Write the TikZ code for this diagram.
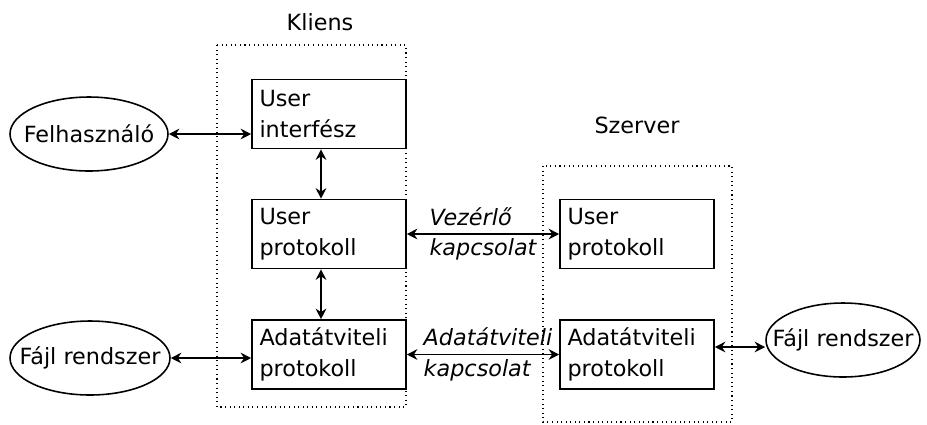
\documentclass[tikz,border=0pt]{standalone}
\usepackage{fontspec}
\setmainfont{DejaVu Sans}
\usetikzlibrary{shapes.geometric,arrows.meta}

\tikzset{
    doboz/.style={draw, line width=0.9pt, rectangle, minimum width=3.08cm, minimum height=1.38cm,
        inner xsep=0.15cm, text width=2.78cm, align=left},
    tojas/.style={draw, line width=0.9pt, ellipse, inner xsep=-0.5cm, inner ysep=0pt, minimum height=1.48cm},
    nyil/.style={line width=0.9pt, {Stealth[length=6pt,width=6pt]}-{Stealth[length=6pt,width=6pt]}},
    keret/.style={dotted, line width=0.6pt}
}

\begin{document}
\begin{tikzpicture}[x=0.02cm, y=-0.02cm, font=\fontsize{12.7}{17.5}\selectfont]
    \useasboundingbox (0,0) rectangle (927,424);

    %Keretek
        \draw[keret] (217,45) rectangle (406,407);
        \draw[keret] (543,166) rectangle (732,422);
        \node (kliens) at (320,22) {Kliens};
        \node (szerver) at (637,125) {Szerver};

    %Kliens
        \node[doboz] (ui) at (329,114) {User\\interfész};
        \node[doboz] (up1) at (329,234) {User\\protokoll};
        \node[doboz] (ad1) at (329,354.5) {Adatátviteli\\protokoll};

    %Szerver
        \node[doboz] (up2) at (637,234) {User\\protokoll};
        \node[doboz] (ad2) at (637,354.5) {Adatátviteli\\protokoll};

    %Kulso
        \node[tojas, minimum width=3.16cm] (felh) at (89,134) {Felhasználó};
        \node[tojas, minimum width=3.2cm] (fr1) at (90,358) {Fájl rendszer};
        \node[tojas, minimum width=3.08cm] (fr2) at (843,340) {Fájl rendszer};

    %Nyilak
        \draw[nyil] (felh.east) -- (felh.east -| ui.west);
        \draw[nyil] (fr1.east) -- (fr1.east -| ad1.west);
        \draw[nyil] ([xshift=-0.16cm]ui.south) -- ([xshift=-0.16cm]up1.north);
        \draw[nyil] ([xshift=-0.16cm]up1.south) -- ([xshift=-0.16cm]ad1.north);
        \draw[nyil] (up1.east) -- (up2.west)
            node[midway, align=left, font=\fontsize{12.7}{17.5}\selectfont\itshape] (vez) {Vezérlő\\kapcsolat};
        \draw[nyil] (ad1.east) -- (ad2.west)
            node[midway, xshift=0.1cm, align=left, font=\fontsize{12.7}{17.5}\selectfont\itshape] (adk) {Adatátviteli\\kapcsolat};
        \draw[nyil] ([yshift=0.15cm]ad2.east) -- ([yshift=0.15cm]ad2.east -| fr2.west);
\end{tikzpicture}
\end{document}
